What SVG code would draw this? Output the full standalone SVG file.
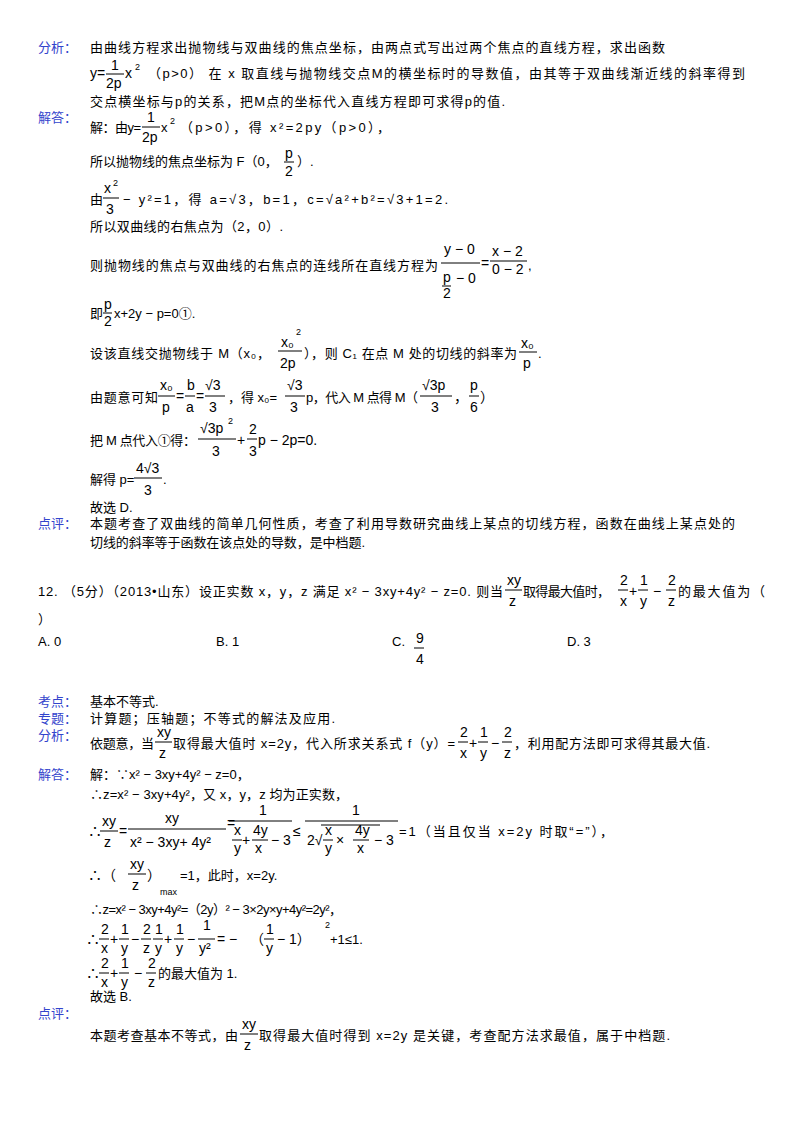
<svg xmlns="http://www.w3.org/2000/svg" width="800" height="1132" viewBox="0 0 800 1132">
<style>
text{font-family:"Liberation Sans","Noto Sans CJK SC",sans-serif;font-size:13px;fill:#000}
.l{fill:#3344cc}
.s{font-size:9px}
.m{font-size:14px}
line{stroke:#000;stroke-width:1}
</style>
<rect width="800" height="1132" fill="#fff"/>
<g id="analysis1">
<text class="l" x="38" y="52">分析：</text>
<text x="90" y="52" textLength="575" lengthAdjust="spacing">由曲线方程求出抛物线与双曲线的焦点坐标，由两点式写出过两个焦点的直线方程，求出函数</text>
<text class="m" x="90" y="78">y=</text><text class="m" x="111" y="70">1</text><line x1="106" y1="74" x2="124" y2="74"/><text class="m" x="106" y="88">2p</text>
<text class="m" x="125" y="78">x</text><text class="s" x="135" y="70">2</text><text x="148" y="78" textLength="597" lengthAdjust="spacing">（p&gt;0） 在 x 取直线与抛物线交点M的横坐标时的导数值，由其等于双曲线渐近线的斜率得到</text>
<text x="90" y="106" textLength="415" lengthAdjust="spacing">交点横坐标与p的关系，把M点的坐标代入直线方程即可求得p的值.</text>
</g>
<g id="solution1">
<text class="l" x="38" y="122">解答：</text>
<text x="90" y="132" textLength="51" lengthAdjust="spacing">解：由y=</text><text class="m" x="147" y="122">1</text><line x1="142" y1="127" x2="160" y2="127"/><text class="m" x="142" y="142">2p</text>
<text x="161" y="132">x</text><text class="s" x="170" y="124">2</text><text x="180" y="132" textLength="210" lengthAdjust="spacing">（p&gt;0），得 x²=2py（p&gt;0），</text>
<text x="90" y="166">所以抛物线的焦点坐标为 F（0，</text><text class="m" x="285" y="158">p</text><line x1="284" y1="162" x2="294" y2="162"/><text class="m" x="285" y="176">2</text><text x="297" y="166">）.</text>
<text x="90" y="204">由</text><text class="m" x="104" y="193">x</text><text class="s" x="113" y="186">2</text><line x1="103" y1="198" x2="119" y2="198"/><text class="m" x="106" y="214">3</text>
<text x="123" y="204" textLength="325" lengthAdjust="spacing">− y²=1，得 a=√3，b=1，c=√a²+b²=√3+1=2.</text>
<text x="90" y="231" textLength="193" lengthAdjust="spacing">所以双曲线的右焦点为（2，0）.</text>
<text x="90" y="270" textLength="348" lengthAdjust="spacing">则抛物线的焦点与双曲线的右焦点的连线所在直线方程为</text>
<text class="m" x="444" y="254">y − 0</text><line x1="441" y1="263" x2="480" y2="263"/><text class="m" x="443" y="282">p</text><line x1="442" y1="286" x2="451" y2="286"/><text class="m" x="443" y="298">2</text><text class="m" x="456" y="283">− 0</text>
<text class="m" x="481" y="268">=</text><text class="m" x="492" y="256">x − 2</text><line x1="490" y1="261" x2="527" y2="261"/><text class="m" x="492" y="274">0 − 2</text><text x="528" y="270">,</text>
<text x="90" y="318">即</text><text class="m" x="104" y="309">p</text><line x1="103" y1="313" x2="112" y2="313"/><text class="m" x="104" y="326">2</text><text x="114" y="318">x+2y − p=0①.</text>
<text x="90" y="358" textLength="180" lengthAdjust="spacing">设该直线交抛物线于 M（x₀，</text><text class="m" x="281" y="347">x₀</text><text class="s" x="296" y="335">2</text><line x1="278" y1="351" x2="302" y2="351"/><text class="m" x="280" y="368">2p</text><text x="304" y="358" textLength="213" lengthAdjust="spacing">），则 C₁ 在点 M 处的切线的斜率为</text><text class="m" x="521" y="348">x₀</text><line x1="519" y1="352" x2="537" y2="352"/><text class="m" x="523" y="368">p</text><text x="538" y="358">.</text>
<text x="90" y="402" textLength="68" lengthAdjust="spacing">由题意可知</text><text class="m" x="160" y="390">x₀</text><line x1="158" y1="396" x2="175" y2="396"/><text class="m" x="162" y="412">p</text><text class="m" x="176" y="401">=</text><text class="m" x="187" y="390">b</text><line x1="185" y1="396" x2="195" y2="396"/><text class="m" x="186" y="412">a</text><text class="m" x="196" y="401">=</text><text class="m" x="205" y="390">√3</text><line x1="205" y1="396" x2="225" y2="396"/><text class="m" x="209" y="412">3</text>
<text x="228" y="402">，得 x₀=</text><text class="m" x="287" y="390">√3</text><line x1="285" y1="396" x2="305" y2="396"/><text class="m" x="290" y="412">3</text><text x="306" y="402" textLength="112" lengthAdjust="spacing">p，代入 M 点得 M（</text><text class="m" x="422" y="390">√3p</text><line x1="420" y1="396" x2="452" y2="396"/><text class="m" x="431" y="412">3</text><text class="m" x="454" y="402">，</text><text class="m" x="470" y="390">p</text><line x1="469" y1="396" x2="479" y2="396"/><text class="m" x="470" y="412">6</text><text class="m" x="480" y="402">）</text>
<text x="90" y="445" textLength="106" lengthAdjust="spacing">把 M 点代入①得：</text><text class="m" x="200" y="433">√3p</text><text class="s" x="228" y="424">2</text><line x1="198" y1="439" x2="236" y2="439"/><text class="m" x="212" y="456">3</text><text class="m" x="237" y="445">+</text><text class="m" x="249" y="434">2</text><line x1="247" y1="439" x2="257" y2="439"/><text class="m" x="249" y="456">3</text><text class="m" x="258" y="445">p − 2p=0.</text>
<text x="90" y="484">解得 p=</text><text class="m" x="136" y="473">4√3</text><line x1="134" y1="478" x2="162" y2="478"/><text class="m" x="144" y="495">3</text><text x="163" y="484">.</text>
<text x="90" y="512">故选 D.</text>
</g>
<g id="comment1">
<text class="l" x="38" y="528">点评：</text>
<text x="90" y="528" textLength="645" lengthAdjust="spacing">本题考查了双曲线的简单几何性质，考查了利用导数研究曲线上某点的切线方程，函数在曲线上某点处的</text>
<text x="90" y="547" textLength="275" lengthAdjust="spacing">切线的斜率等于函数在该点处的导数，是中档题.</text>
</g>
<g id="question12">
<text x="38" y="596" textLength="465" lengthAdjust="spacing">12. （5分）（2013•山东）设正实数 x，y，z 满足 x² − 3xy+4y² − z=0. 则当</text><text class="m" x="507" y="585">xy</text><line x1="505" y1="590" x2="522" y2="590"/><text class="m" x="509" y="606">z</text><text x="523" y="596" textLength="87" lengthAdjust="spacing">取得最大值时，</text>
<text class="m" x="620" y="585">2</text><line x1="618" y1="590" x2="628" y2="590"/><text class="m" x="620" y="606">x</text><text class="m" x="629" y="596">+</text><text class="m" x="640" y="585">1</text><line x1="638" y1="590" x2="648" y2="590"/><text class="m" x="640" y="606">y</text><text class="m" x="653" y="596">−</text><text class="m" x="668" y="585">2</text><line x1="666" y1="590" x2="676" y2="590"/><text class="m" x="668" y="606">z</text><text x="678" y="596" textLength="87" lengthAdjust="spacing">的最大值为（</text>
<text x="38" y="624">）</text>
<text x="38" y="646">A. 0</text><text x="216" y="646">B. 1</text><text x="392" y="646">C.</text><text class="m" x="416" y="643">9</text><line x1="414" y1="648" x2="424" y2="648"/><text class="m" x="416" y="664">4</text><text x="567" y="646">D. 3</text>
</g>
<g id="analysis2">
<text class="l" x="38" y="706">考点：</text><text x="90" y="706">基本不等式.</text>
<text class="l" x="38" y="723">专题：</text><text x="90" y="723" textLength="245" lengthAdjust="spacing">计算题；压轴题；不等式的解法及应用.</text>
<text class="l" x="38" y="740">分析：</text>
<text x="90" y="748" textLength="64" lengthAdjust="spacing">依题意，当</text><text class="m" x="157" y="737">xy</text><line x1="155" y1="742" x2="172" y2="742"/><text class="m" x="159" y="758">z</text><text x="173" y="748" textLength="282" lengthAdjust="spacing">取得最大值时 x=2y，代入所求关系式 f（y）=</text><text class="m" x="460" y="737">2</text><line x1="458" y1="742" x2="468" y2="742"/><text class="m" x="460" y="758">x</text><text class="m" x="469" y="748">+</text><text class="m" x="480" y="737">1</text><line x1="478" y1="742" x2="488" y2="742"/><text class="m" x="480" y="758">y</text><text class="m" x="491" y="748">−</text><text class="m" x="504" y="737">2</text><line x1="502" y1="742" x2="512" y2="742"/><text class="m" x="504" y="758">z</text><text x="514" y="748" textLength="196" lengthAdjust="spacing">，利用配方法即可求得其最大值.</text>
</g>
<g id="solution2">
<text class="l" x="38" y="779">解答：</text>
<text x="90" y="779">解：∵x² − 3xy+4y² − z=0，</text>
<text x="90" y="799" textLength="258" lengthAdjust="spacing">∴z=x² − 3xy+4y²，又 x，y，z 均为正实数，</text>
<text class="m" x="88" y="836">∴</text><text class="m" x="102" y="826">xy</text><line x1="100" y1="831" x2="118" y2="831"/><text class="m" x="104" y="847">z</text><text class="m" x="119" y="836">=</text>
<text class="m" x="165" y="823">xy</text><line x1="128" y1="829" x2="226" y2="829"/><text class="m" x="130" y="847">x² − 3xy+ 4y²</text><text class="m" x="227" y="828">=</text>
<text class="m" x="259" y="815">1</text><line x1="229" y1="821" x2="292" y2="821"/><text class="m" x="234" y="835">x</text><line x1="232" y1="840" x2="242" y2="840"/><text class="m" x="234" y="853">y</text><text class="m" x="242" y="845">+</text><text class="m" x="253" y="835">4y</text><line x1="252" y1="840" x2="268" y2="840"/><text class="m" x="255" y="853">x</text><text class="m" x="271" y="845">− 3</text>
<text class="m" x="293" y="836">≤</text>
<text class="m" x="352" y="815">1</text><line x1="305" y1="821" x2="398" y2="821"/><text class="m" x="307" y="845">2√</text><line x1="321" y1="825" x2="380" y2="825"/><text class="m" x="325" y="835">x</text><line x1="323" y1="840" x2="333" y2="840"/><text class="m" x="325" y="853">y</text><text class="m" x="336" y="845">×</text><text class="m" x="355" y="835">4y</text><line x1="353" y1="840" x2="369" y2="840"/><text class="m" x="357" y="853">x</text><text class="m" x="374" y="845">− 3</text>
<text x="399" y="836" textLength="214" lengthAdjust="spacing">=1（当且仅当 x=2y 时取“=”），</text>
<text class="m" x="88" y="880">∴（</text><text class="m" x="130" y="869">xy</text><line x1="128" y1="874" x2="146" y2="874"/><text class="m" x="132" y="890">z</text><text class="m" x="147" y="880">）</text><text class="s" x="160" y="895">max</text><text x="180" y="880">=1，此时，x=2y.</text>
<text x="90" y="914" textLength="252" lengthAdjust="spacing">∴z=x² − 3xy+4y²=（2y）² − 3×2y×y+4y²=2y²，</text>
<text class="m" x="86" y="944">∴</text><text class="m" x="101" y="934">2</text><line x1="99" y1="939" x2="109" y2="939"/><text class="m" x="101" y="953">x</text><text class="m" x="110" y="944">+</text><text class="m" x="121" y="934">1</text><line x1="119" y1="939" x2="129" y2="939"/><text class="m" x="121" y="953">y</text><text class="m" x="131" y="944">−</text><text class="m" x="143" y="934">2</text><line x1="141" y1="939" x2="151" y2="939"/><text class="m" x="143" y="953">z</text><text class="m" x="155" y="934">1</text><line x1="153" y1="939" x2="163" y2="939"/><text class="m" x="155" y="953">y</text><text class="m" x="164" y="944">+</text><text class="m" x="176" y="934">1</text><line x1="174" y1="939" x2="184" y2="939"/><text class="m" x="176" y="953">y</text><text class="m" x="187" y="944">−</text><text class="m" x="203" y="930">1</text><line x1="198" y1="939" x2="215" y2="939"/><text class="m" x="199" y="953">y²</text><text class="m" x="217" y="944">= −</text><text class="m" x="250" y="944">（</text><text class="m" x="266" y="934">1</text><line x1="264" y1="939" x2="274" y2="939"/><text class="m" x="266" y="953">y</text><text class="m" x="277" y="944">− 1）</text><text class="s" x="325" y="928">2</text><text x="330" y="944">+1≤1.</text>
<text class="m" x="86" y="978">∴</text><text class="m" x="101" y="968">2</text><line x1="99" y1="973" x2="109" y2="973"/><text class="m" x="101" y="987">x</text><text class="m" x="110" y="978">+</text><text class="m" x="121" y="968">1</text><line x1="119" y1="973" x2="129" y2="973"/><text class="m" x="121" y="987">y</text><text class="m" x="134" y="978">−</text><text class="m" x="148" y="968">2</text><line x1="146" y1="973" x2="156" y2="973"/><text class="m" x="148" y="987">z</text><text x="158" y="978">的最大值为 1.</text>
<text x="90" y="1001">故选 B.</text>
</g>
<g id="comment2">
<text class="l" x="38" y="1018">点评：</text>
<text x="90" y="1040" textLength="148" lengthAdjust="spacing">本题考查基本不等式，由</text><text class="m" x="242" y="1029">xy</text><line x1="240" y1="1034" x2="258" y2="1034"/><text class="m" x="244" y="1050">z</text><text x="259" y="1040" textLength="411" lengthAdjust="spacing">取得最大值时得到 x=2y 是关键，考查配方法求最值，属于中档题.</text>
</g>
</svg>
